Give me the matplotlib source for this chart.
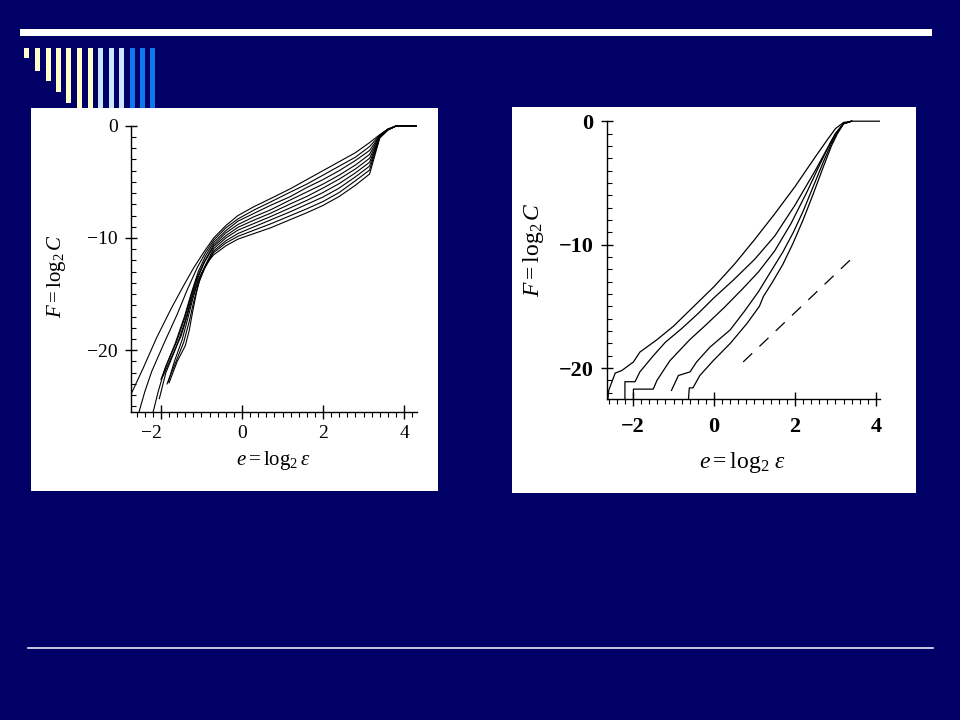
import numpy as np
import matplotlib.pyplot as plt
from matplotlib.patches import Rectangle
from matplotlib.lines import Line2D
from matplotlib.ticker import MultipleLocator, FixedLocator

plt.rcParams['font.family'] = ['Liberation Serif', 'DejaVu Serif']
plt.rcParams['mathtext.fontset'] = 'custom'
plt.rcParams['mathtext.rm'] = 'Liberation Serif'
plt.rcParams['mathtext.it'] = 'Liberation Serif:italic'

##### left panel: F = log2 C against e = log2 eps, nine curves
# lower (steep) part of each curve, read one by one
left_tail_e = [
    [-2.75, -2.44, -2.11, -1.75, -1.45, -1.20, -0.95],
    [-2.55, -2.40, -2.23, -1.94, -1.60, -1.35, -1.10, -0.90],
    [-2.20, -2.07, -1.90, -1.65, -1.42, -1.25, -1.08, -0.90],
    [-2.00, -1.85, -1.62, -1.42, -1.27, -1.12, -0.93],
    [-2.04, -1.88, -1.62, -1.42, -1.27, -1.12, -0.93],
    [-1.82, -1.66, -1.48, -1.34, -1.22, -1.08, -0.90],
    [-1.95, -1.74, -1.50, -1.35, -1.22, -1.08, -0.90],
    [-1.85, -1.64, -1.44, -1.30, -1.20, -1.08, -0.92],
    [-1.80, -1.60, -1.40, -1.30, -1.22, -1.12, -1.02, -0.88],
]
left_tail_F = [
    [-24.0, -21.6, -18.9, -16.3, -14.3, -12.7, -11.3],
    [-25.6, -23.7, -21.9, -19.5, -16.8, -14.6, -12.6, -11.3],
    [-25.6, -23.7, -21.6, -19.4, -17.0, -14.9, -13.0, -11.6],
    [-22.6, -21.2, -19.3, -17.2, -15.3, -13.6, -12.1],
    [-24.3, -22.0, -19.7, -17.6, -15.6, -13.8, -12.2],
    [-22.8, -20.9, -19.1, -17.2, -15.5, -13.8, -12.4],
    [-22.3, -20.6, -18.7, -16.9, -15.2, -13.7, -12.5],
    [-23.0, -21.1, -19.3, -17.4, -15.8, -14.1, -12.7],
    [-22.9, -21.0, -19.6, -18.2, -16.6, -14.8, -13.4, -12.3],
]
# upper part of the bundle, read at common e values
left_upper_e = [-0.7, -0.4, -0.1, 0.3, 0.7, 1.2, 1.6, 2.0, 2.4, 2.8, 3.15, 3.4, 3.6, 3.82, 4.3]
left_upper_F = [
    [-10.0, -8.9, -8.0, -7.2, -6.5, -5.6, -4.8, -4.0, -3.2, -2.4, -1.5, -0.8, -0.3, 0.0, 0.0],
    [-10.2, -9.1, -8.3, -7.5, -6.8, -5.9, -5.2, -4.4, -3.6, -2.8, -1.85, -0.85, -0.3, 0.0, 0.0],
    [-10.4, -9.35, -8.5, -7.8, -7.1, -6.3, -5.5, -4.8, -4.0, -3.1, -2.2, -0.9, -0.32, 0.0, 0.0],
    [-10.6, -9.55, -8.8, -8.1, -7.5, -6.6, -5.9, -5.2, -4.4, -3.5, -2.55, -0.9, -0.33, 0.0, 0.0],
    [-10.75, -9.8, -9.05, -8.4, -7.8, -6.95, -6.3, -5.55, -4.75, -3.85, -2.9, -0.95, -0.34, 0.0, 0.0],
    [-10.95, -10.0, -9.3, -8.7, -8.1, -7.3, -6.65, -5.95, -5.15, -4.2, -3.25, -1.0, -0.35, 0.0, 0.0],
    [-11.15, -10.25, -9.6, -9.0, -8.4, -7.65, -7.0, -6.35, -5.55, -4.55, -3.6, -1.0, -0.36, 0.0, 0.0],
    [-11.3, -10.45, -9.85, -9.3, -8.75, -8.0, -7.4, -6.75, -5.95, -4.9, -3.95, -1.05, -0.37, 0.0, 0.0],
    [-11.5, -10.7, -10.1, -9.6, -9.1, -8.35, -7.75, -7.1, -6.3, -5.3, -4.3, -1.1, -0.4, 0.0, 0.0],
]
left_xticks = [-2, 0, 2, 4]
left_xticklabels = ['\u22122    ', '0', '2', '4']

##### right panel: five curves and a dashed reference slope
right_e = [
    [-2.62, -2.60, -2.44, -2.28, -1.99, -1.83, -1.41, -1.0, -0.5, 0.0, 0.5, 1.0, 1.5, 2.0, 2.5, 2.8, 3.0, 3.2, 3.4, 4.1],
    [-2.20, -2.20, -1.95, -1.83, -1.5, -1.2, -0.8, -0.4, 0.0, 0.5, 1.0, 1.5, 2.0, 2.5, 2.8, 3.0, 3.2, 3.4],
    [-1.99, -1.99, -1.50, -1.41, -1.09, -0.6, -0.2, 0.25, 0.7, 1.1, 1.5, 1.9, 2.3, 2.6, 2.85, 3.0, 3.2, 3.4],
    [-1.05, -0.88, -0.59, -0.43, -0.10, 0.4, 0.75, 1.1, 1.38, 1.7, 1.96, 2.2, 2.45, 2.7, 2.9, 3.05, 3.2, 3.4],
    [-0.63, -0.61, -0.52, -0.35, -0.02, 0.4, 0.81, 1.12, 1.22, 1.45, 1.7, 1.95, 2.2, 2.45, 2.7, 2.9, 3.05, 3.2, 3.4],
]
right_F = [
    [-22.5, -21.8, -20.4, -20.2, -19.5, -18.7, -17.7, -16.6, -15.0, -13.4, -11.6, -9.6, -7.5, -5.3, -2.9, -1.5, -0.6, -0.1, 0.0, 0.0],
    [-22.5, -21.1, -21.1, -20.3, -19.0, -17.9, -16.8, -15.6, -14.3, -12.8, -11.2, -9.3, -6.8, -4.0, -2.2, -1.0, -0.2, 0.0],
    [-22.5, -21.7, -21.7, -21.0, -19.4, -17.7, -16.5, -15.1, -13.6, -12.2, -10.5, -8.3, -5.7, -3.6, -1.9, -1.0, -0.2, 0.0],
    [-21.8, -20.6, -20.3, -19.5, -18.3, -16.9, -15.4, -13.8, -12.3, -10.6, -9.0, -7.3, -5.3, -3.3, -1.8, -0.9, -0.2, 0.0],
    [-22.5, -21.6, -21.6, -20.6, -19.4, -18.0, -16.4, -15.0, -14.2, -13.0, -11.6, -9.9, -8.0, -5.9, -3.7, -2.0, -1.0, -0.2, 0.0],
]
dash_e = [0.72, 3.44]
dash_F = [-19.5, -11.0]

W, H = 960, 720


def fx(px):
    return px / W


def fy(py):
    return 1 - py / H


fig = plt.figure(figsize=(9.6, 7.2), dpi=100)
fig.patch.set_facecolor('#000066')

######## slide decoration
fig.add_artist(Rectangle((fx(20), fy(36)), fx(932) - fx(20), 7 / H, transform=fig.transFigure,
                         facecolor='white', edgecolor='none', zorder=-3))
fig.add_artist(Line2D([fx(28), fx(933)], [fy(648), fy(648)], transform=fig.transFigure,
                      color='#e8e8f8', lw=1.2, zorder=-3))
bar_x = [24, 35, 46, 56, 66, 77, 88, 98, 109, 119, 130, 140, 150]
bar_bottom = [58, 71, 81, 92, 103, 108, 108, 108, 108, 108, 108, 108, 108]
bar_col = ['#ffffcc'] * 7 + ['#cce6ff'] * 3 + ['#1177ee'] * 3
for bx, bb, bc in zip(bar_x, bar_bottom, bar_col):
    fig.add_artist(Rectangle((fx(bx), fy(bb)), 4.5 / W, (bb - 48) / H, transform=fig.transFigure,
                             facecolor=bc, edgecolor='none', zorder=-3))

# white panels
fig.add_artist(Rectangle((fx(31), fy(491)), 407 / W, 383 / H, transform=fig.transFigure,
                         facecolor='white', edgecolor='none', zorder=-1))
fig.add_artist(Rectangle((fx(512), fy(493)), 404 / W, 386 / H, transform=fig.transFigure,
                         facecolor='white', edgecolor='none', zorder=-1))


def style_axes(ax, xlim, ylim, labelsize, weight, xpad):
    ax.patch.set_alpha(0)
    ax.set_xlim(xlim)
    ax.set_ylim(ylim[0], ylim[1] + 0.6)
    ax.spines['top'].set_visible(False)
    ax.spines['right'].set_visible(False)
    ax.spines['left'].set_bounds(ylim[0], 0)
    ax.spines['left'].set_linewidth(1.0)
    ax.spines['bottom'].set_linewidth(1.0)
    ax.xaxis.set_major_locator(FixedLocator([-2, 0, 2, 4]))
    ax.xaxis.set_minor_locator(MultipleLocator(0.2))
    ax.yaxis.set_major_locator(FixedLocator([0, -10, -20]))
    ax.yaxis.set_minor_locator(MultipleLocator(1))
    ax.tick_params(axis='x', which='major', direction='inout', length=10, width=1.0, pad=xpad)
    ax.tick_params(axis='x', which='minor', direction='out', length=3.5, width=0.8)
    ax.tick_params(axis='y', which='major', direction='inout', length=9, width=1.0, pad=5)
    ax.tick_params(axis='y', which='minor', direction='in', length=3.5, width=0.8)
    ax.tick_params(labelsize=labelsize)
    for lab in ax.get_xticklabels() + ax.get_yticklabels():
        lab.set_fontweight(weight)


######## left plot
ax1 = fig.add_axes([fx(131), fy(412), 286 / W, 293 / H])
style_axes(ax1, (-2.74, 4.32), (-25.5, 0.0), 14, 'normal', 4)
# minus sign hangs to the left of the tick, as in the book figure
ax1.set_xticks(left_xticks, left_xticklabels, fontsize=14)
for te, tF, uF in zip(left_tail_e, left_tail_F, left_upper_F):
    ax1.plot(te + left_upper_e, tF + uF, color='black', lw=0.8)
fig.text(fx(57), fy(276), r'$F = \log_2 C$', rotation=90, ha='center', va='center', fontsize=15)
fig.text(fx(273), fy(461), r'$e = \log_2 \varepsilon$', ha='center', va='center', fontsize=15)

######## right plot
ax2 = fig.add_axes([fx(606.7), fy(399), 273.3 / W, 285.2 / H])
style_axes(ax2, (-2.65, 4.10), (-22.5, 0.0), 16, 'bold', 8)
for e, F in zip(right_e, right_F):
    ax2.plot(e, F, color='black', lw=0.9)
ax2.plot(dash_e, dash_F, color='black', lw=0.9, linestyle=(0, (10, 8)))
fig.text(fx(533), fy(250), r'$F = \log_2 C$', rotation=90, ha='center', va='center', fontsize=17)
fig.text(fx(742), fy(462), r'$e = \log_2\,\varepsilon$', ha='center', va='center', fontsize=17)

fig.savefig('out.png', dpi=100, facecolor=fig.get_facecolor())
